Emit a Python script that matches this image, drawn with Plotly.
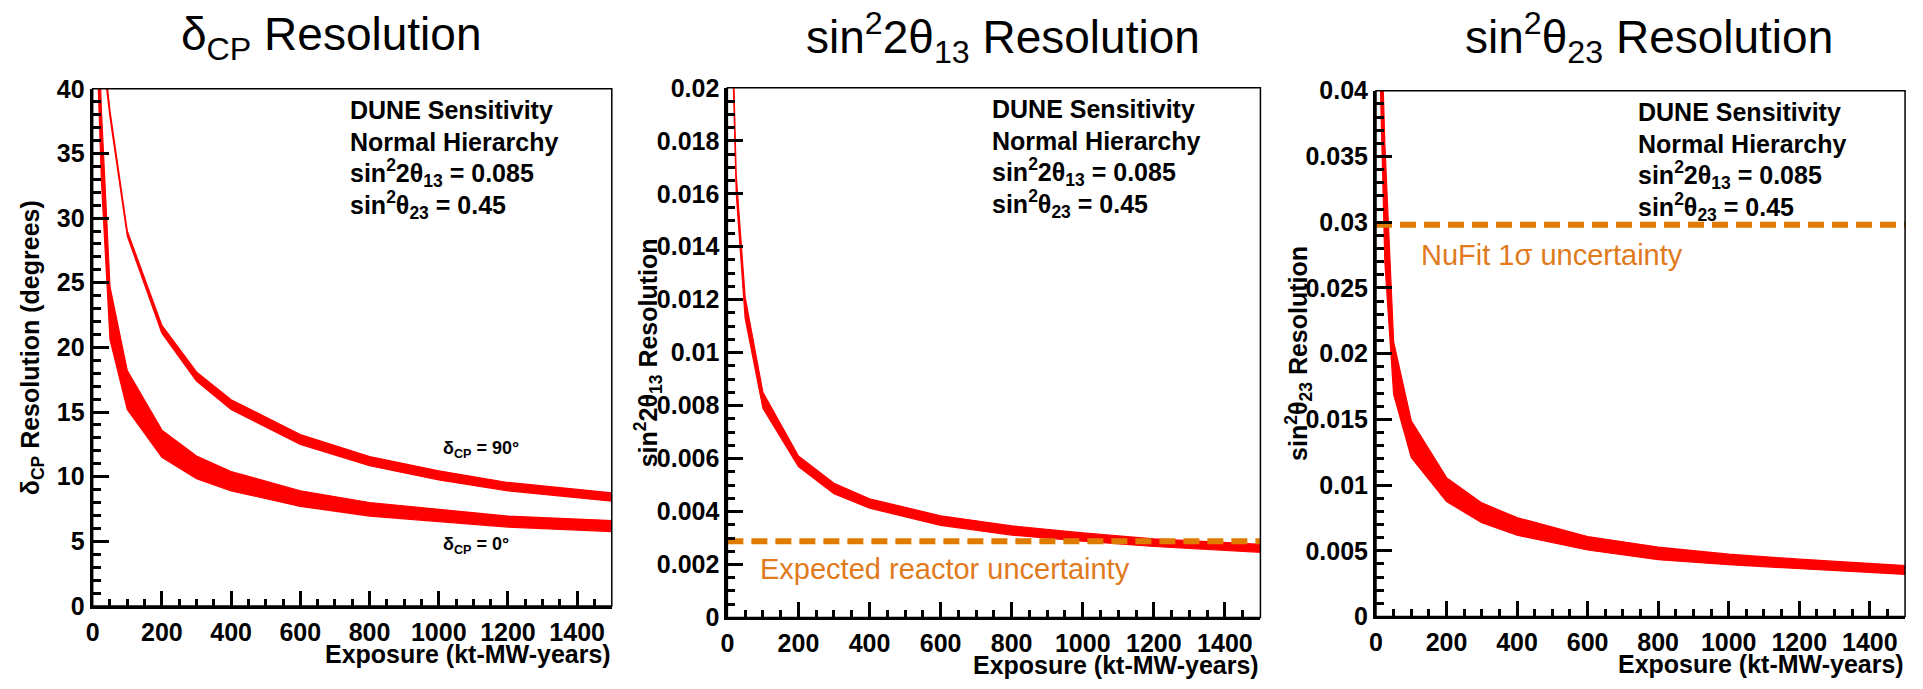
import plotly.graph_objects as go

W, H = 1923, 689

# ---------------- data ----------------
exposure = [10, 25, 50, 100, 200, 300, 400, 600, 800, 1000, 1200, 1500]

# delta_CP resolution (degrees)
dcp0_low = [45.0, 33.0, 20.6, 15.2, 11.5, 9.85, 8.9, 7.7, 6.95, 6.55, 6.1, 5.75]
dcp0_high = [50.0, 38.5, 24.7, 18.2, 13.6, 11.6, 10.4, 8.9, 8.0, 7.45, 6.95, 6.6]
dcp90_low = [60.0, 43.5, 37.8, 28.6, 21.1, 17.4, 15.2, 12.5, 10.85, 9.75, 8.9, 8.1]
dcp90_high = [62.0, 44.5, 38.3, 29.0, 21.7, 18.1, 15.95, 13.25, 11.55, 10.45, 9.55, 8.75]

# sin^2 2theta13 resolution
th13_low = [0.0235, 0.0160, 0.0113, 0.0079, 0.0057, 0.00467, 0.00413, 0.00348, 0.00311, 0.00288, 0.00268, 0.00246]
th13_high = [0.0245, 0.0167, 0.0121, 0.0085, 0.0061, 0.00507, 0.00448, 0.00384, 0.00346, 0.00319, 0.00297, 0.00276]
reactor_unc = 0.00288

# sin^2 theta23 resolution
th23_low = [0.043, 0.027, 0.0169, 0.0121, 0.00874, 0.00714, 0.00618, 0.00506, 0.00432, 0.00394, 0.00365, 0.0032]
th23_high = [0.050, 0.036, 0.0209, 0.01488, 0.01056, 0.00864, 0.00752, 0.00608, 0.00528, 0.00474, 0.00436, 0.00387]
nufit_unc = 0.0298

x_ticks = [0, 200, 400, 600, 800, 1000, 1200, 1400]
x_ticktext = ["0", "200", "400", "600", "800", "1000", "1200", "1400"]
y1_ticks = [0, 5, 10, 15, 20, 25, 30, 35, 40]
y1_ticktext = ["0", "5", "10", "15", "20", "25", "30", "35", "40"]
y2_ticks = [0, 0.002, 0.004, 0.006, 0.008, 0.01, 0.012, 0.014, 0.016, 0.018, 0.02]
y2_ticktext = ["0", "0.002", "0.004", "0.006", "0.008", "0.01", "0.012", "0.014", "0.016", "0.018", "0.02"]
y3_ticks = [0, 0.005, 0.01, 0.015, 0.02, 0.025, 0.03, 0.035, 0.04]
y3_ticktext = ["0", "0.005", "0.01", "0.015", "0.02", "0.025", "0.03", "0.035", "0.04"]

titles = ["δ<sub>CP</sub> Resolution",
          "sin<sup>2</sup>2θ<sub>13</sub> Resolution",
          "sin<sup>2</sup>θ<sub>23</sub> Resolution"]
ytitles = ["δ<sub>CP</sub> Resolution (degrees)",
           "sin<sup>2</sup>2θ<sub>13</sub> Resolution",
           "sin<sup>2</sup>θ<sub>23</sub> Resolution"]
xtitle = "Exposure (kt-MW-years)"
info_lines = ["DUNE Sensitivity", "Normal Hierarchy",
              "sin<sup>2</sup>2θ<sub>13</sub> = 0.085",
              "sin<sup>2</sup>θ<sub>23</sub> = 0.45"]

# ---------------- layout geometry (pixels) ----------------
panels = [  # left, right, top, bottom
    (86, 607, 78, 617),
    (723, 1258, 77, 629),
    (1374, 1905, 80, 628),
]

FONT = "Liberation Sans, Arial, Helvetica, sans-serif"
RED = "#ff0000"
ORANGE = "#de7b00"
ORANGE_TXT = "#e07a1c"

def px(xp):
    return xp / W

def py(yp):
    return 1 - yp / H

fig = go.Figure()

def band(x, lo, hi, i):
    ax = "" if i == 0 else str(i + 1)
    fig.add_trace(go.Scatter(
        x=list(x) + list(x)[::-1], y=list(hi) + list(lo)[::-1],
        fill="toself", fillcolor=RED, mode="lines",
        line=dict(color=RED, width=1.2),
        xaxis="x" + ax, yaxis="y" + ax, hoverinfo="skip", showlegend=False))

def hline(val, i):
    ax = "" if i == 0 else str(i + 1)
    fig.add_trace(go.Scatter(
        x=[0, 1500], y=[val, val], mode="lines",
        line=dict(color=ORANGE, width=6, dash="16px,8px"),
        xaxis="x" + ax, yaxis="y" + ax, hoverinfo="skip", showlegend=False))

band(exposure, dcp0_low, dcp0_high, 0)
band(exposure, dcp90_low, dcp90_high, 0)
band(exposure, th13_low, th13_high, 1)
hline(reactor_unc, 1)
band(exposure, th23_low, th23_high, 2)
hline(nufit_unc, 2)

tickfont = dict(family=FONT, size=25, color="black", weight="bold")

def xaxis_cfg(i):
    L, R, T, B = panels[i]
    return dict(
        domain=[px(L), px(R)], range=[0, 1500], anchor="y" if i == 0 else "y" + str(i + 1),
        tickmode="array", tickvals=x_ticks, ticktext=x_ticktext,
        ticks="inside", ticklen=15, tickwidth=2.5, tickcolor="black",
        ticklabelstandoff=2,
        minor=dict(tickmode="linear", tick0=0, dtick=50, ticks="inside",
                   ticklen=7, tickwidth=2.5, tickcolor="black", showgrid=False),
        showline=True, linewidth=3, linecolor="black", mirror=False,
        showgrid=False, zeroline=False, tickfont=tickfont, fixedrange=True)

def yaxis_cfg(i, rng, tv, tt, minor_dt):
    L, R, T, B = panels[i]
    return dict(
        domain=[py(B), py(T)], range=rng, anchor="x" if i == 0 else "x" + str(i + 1),
        tickmode="array", tickvals=tv, ticktext=tt,
        ticks="inside", ticklen=16, tickwidth=2.5, tickcolor="black",
        minor=dict(tickmode="linear", tick0=0, dtick=minor_dt, ticks="inside",
                   ticklen=8, tickwidth=2.5, tickcolor="black", showgrid=False),
        showline=True, linewidth=3, linecolor="black", mirror=False,
        showgrid=False, zeroline=False, tickfont=tickfont, fixedrange=True)

layout = dict(
    width=W, height=H, margin=dict(l=0, r=0, t=0, b=0),
    paper_bgcolor="white", plot_bgcolor="white", showlegend=False,
    xaxis=xaxis_cfg(0), xaxis2=xaxis_cfg(1), xaxis3=xaxis_cfg(2),
    yaxis=yaxis_cfg(0, [0, 40], y1_ticks, y1_ticktext, 1),
    yaxis2=yaxis_cfg(1, [0, 0.02], y2_ticks, y2_ticktext, 0.0005),
    yaxis3=yaxis_cfg(2, [0, 0.04], y3_ticks, y3_ticktext, 0.001),
)
fig.update_layout(**layout)

shapes = []
annotations = []
title_cx = [325, 1000, 1648]
ytitle_cx = [25, 643, 1296]
for i, (L, R, T, B) in enumerate(panels):
    xs = "x" if i == 0 else "x" + str(i + 1)
    ys = "y" if i == 0 else "y" + str(i + 1)
    # thin frame (top / right)
    shapes.append(dict(type="rect", xref=xs + " domain", yref=ys + " domain",
                       x0=0, x1=1, y0=0, y1=1, line=dict(color="black", width=1.5),
                       layer="above"))
    # panel title
    annotations.append(dict(text=titles[i], x=px(title_cx[i]), y=py(25), xref="paper", yref="paper",
                            xanchor="center", yanchor="middle", showarrow=False,
                            font=dict(family=FONT, size=46, color="black")))
    # y axis title
    annotations.append(dict(text=ytitles[i], x=px(ytitle_cx[i]), y=py((T + B) / 2),
                            xref="paper", yref="paper", textangle=-90,
                            xanchor="center", yanchor="middle", showarrow=False,
                            font=dict(family=FONT, size=25, color="black", weight="bold")))
    # x axis title
    annotations.append(dict(text=xtitle, x=px(R + 1), y=py(B + 50), xref="paper", yref="paper",
                            xanchor="right", yanchor="middle", showarrow=False,
                            font=dict(family=FONT, size=25, color="black", weight="bold")))
    # info text block
    for k, line in enumerate(info_lines):
        annotations.append(dict(text=line, x=0.492, y=py(T + 22 + 33 * k),
                                xref=xs + " domain", yref="paper",
                                xanchor="left", yanchor="middle", showarrow=False,
                                font=dict(family=FONT, size=25, color="black", weight="bold")))

# curve labels in panel 1
annotations.append(dict(text="δ<sub>CP</sub> = 90°", x=1006, y=12.1, xref="x", yref="y",
                        xanchor="left", yanchor="middle", showarrow=False,
                        font=dict(family=FONT, size=18, color="black", weight="bold")))
annotations.append(dict(text="δ<sub>CP</sub> = 0°", x=1006, y=4.65, xref="x", yref="y",
                        xanchor="left", yanchor="middle", showarrow=False,
                        font=dict(family=FONT, size=18, color="black", weight="bold")))
# dashed-line labels
annotations.append(dict(text="Expected reactor uncertainty", x=85, y=0.00182, xref="x2", yref="y2",
                        xanchor="left", yanchor="middle", showarrow=False,
                        font=dict(family=FONT, size=29, color=ORANGE_TXT)))
annotations.append(dict(text="NuFit 1σ uncertainty", x=123, y=0.0275, xref="x3", yref="y3",
                        xanchor="left", yanchor="middle", showarrow=False,
                        font=dict(family=FONT, size=29, color=ORANGE_TXT)))

fig.update_layout(shapes=shapes, annotations=annotations)
fig.write_html("out.html")
